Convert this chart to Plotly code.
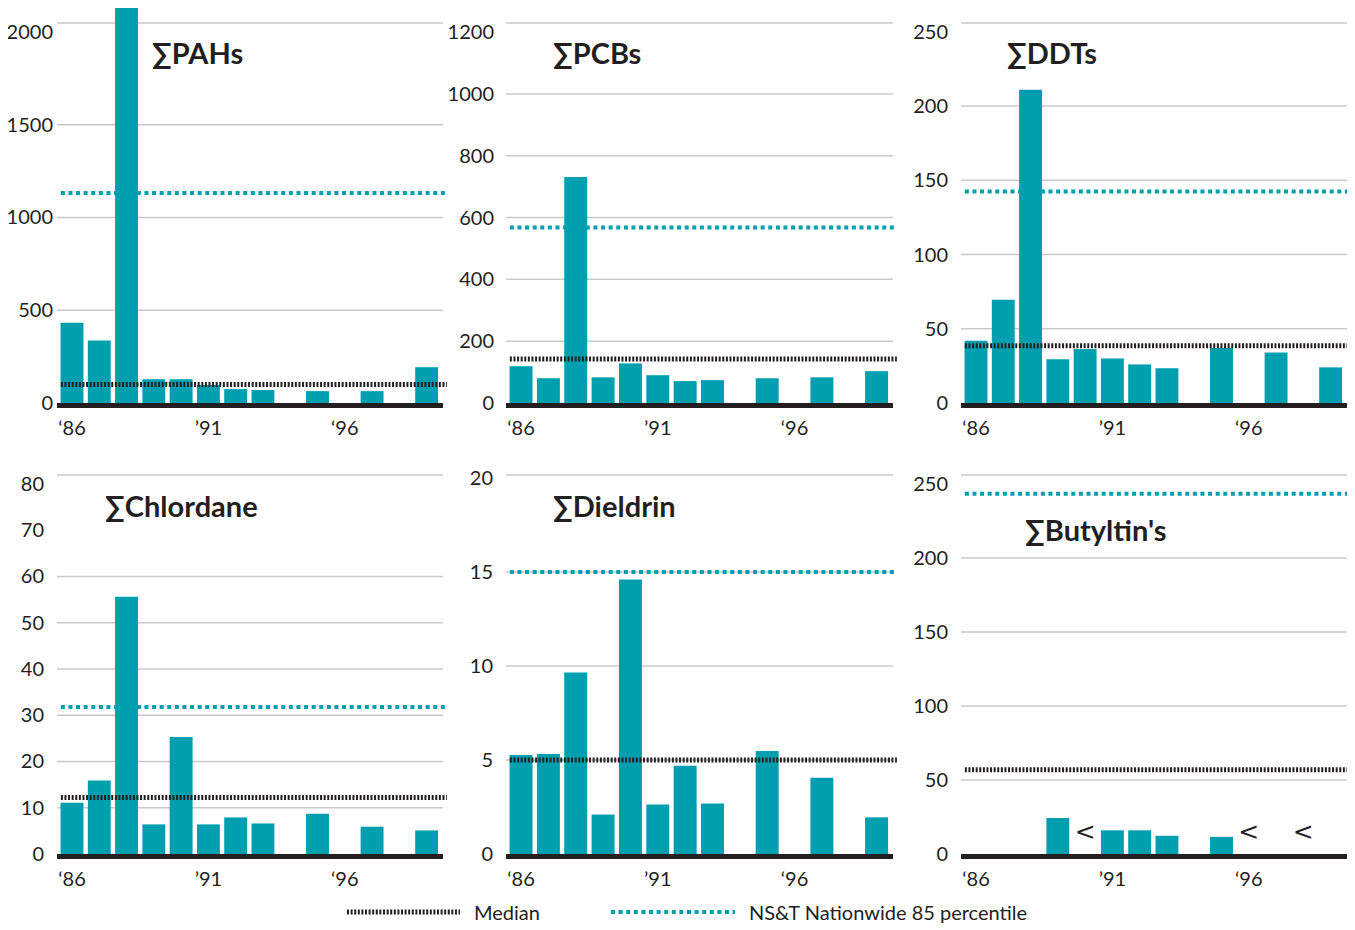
import plotly.graph_objects as go

# ---------------- data ----------------
years = list(range(1986, 2000))
pahs = [433, 337, 2140, 128, 128, 97, 75, 70, None, 64, None, 64, None, 193]
pcbs = [119, 80, 731, 83, 128, 90, 71, 74, None, 80, None, 83, None, 103]
ddts = [41.9, 69.5, 211, 29.4, 36.3, 30, 26, 23.4, None, 37, None, 34, None, 24]
chlordane = [11.1, 15.9, 55.6, 6.4, 25.3, 6.4, 7.9, 6.6, None, 8.7, None, 5.9, None, 5.1]
dieldrin = [5.27, 5.32, 9.65, 2.1, 14.6, 2.63, 4.69, 2.69, None, 5.48, None, 4.06, None, 1.95]
butyltins = [None, None, None, 24.3, None, 16, 16, 12.3, None, 11.6, None, None, None, None]
butyltin_below_years = [1990, 1996, 1998]   # "<" (below detection) markers

titles = ["∑PAHs", "∑PCBs", "∑DDTs", "∑Chlordane", "∑Dieldrin", "∑Butyltin's"]
medians = [100, 142, 38.5, 12.2, 5.0, 56.9]
p85 = [1132, 568, 142.5, 31.8, 15.0, 243.5]
yticks = [
    [0, 500, 1000, 1500, 2000],
    [0, 200, 400, 600, 800, 1000, 1200],
    [0, 50, 100, 150, 200, 250],
    [0, 10, 20, 30, 40, 50, 60, 70, 80],
    [0, 5, 10, 15, 20],
    [0, 50, 100, 150, 200, 250],
]
grid_hidden = [[], [], [], [70], [], []]
yrange_top = [2129, 1278, 266, 83.0, 20.43, 259.5]
xtick_vals = [1986, 1991, 1996]
xtick_text = ["‘86", "’91", "‘96"]
series = [pahs, pcbs, ddts, chlordane, dieldrin, butyltins]

# ---------------- style / layout ----------------
W, H = 1355, 930
OFF = 8   # page body margin of the html wrapper
TEAL = "#009fb0"
INK = "#231f20"
GRID = "#c9c9c9"
FONT = "Lato"


def px_x(x):
    return min(max((x - OFF) / W, 0), 1)


def px_y(y):
    return min(max(1 - (y - OFF) / H, 0), 1)


col_px = [(57, 443), (506, 893), (961, 1347)]
row_px = [(8, 403), (470, 854)]           # (top, bottom) in pixels
top_grid_px = [23, 475]                   # top frame rule of each row
title_px = [(150, 52), (551, 52), (1005, 52), (103, 505), (551, 505), (1023, 529)]
ylabel_gap = [3, 11, 12, 12, 12, 12]

fig = go.Figure()
layout = dict(
    width=W, height=H, margin=dict(l=0, r=0, t=0, b=0, autoexpand=False),
    paper_bgcolor="white", plot_bgcolor="white", showlegend=False,
    font=dict(family=FONT, color=INK, size=20),
)
shapes = []
annotations = []

for i in range(6):
    r, c = divmod(i, 3)
    n = "" if i == 0 else str(i + 1)
    xa, ya = "x" + n, "y" + n
    x0p, x1p = col_px[c]
    t, b = row_px[r]

    layout["xaxis" + n] = dict(
        domain=[px_x(x0p), px_x(x1p)], anchor=ya, range=[1985.45, 1999.6],
        tickvals=xtick_vals, ticktext=xtick_text, ticks="", showgrid=False,
        zeroline=False, showline=True, linewidth=5, linecolor=INK, automargin=False,
        tickfont=dict(size=20, color=INK, family=FONT), fixedrange=True,
        ticklabelstandoff=3,
    )
    layout["yaxis" + n] = dict(
        domain=[px_y(b), px_y(t)], anchor=xa, range=[0, yrange_top[i]],
        tickvals=yticks[i], ticks="", showgrid=False, zeroline=False, automargin=False,
        showline=False, tickfont=dict(size=20, color=INK, family=FONT),
        fixedrange=True, ticklabelstandoff=ylabel_gap[i],
    )

    # gridlines (top one follows the frame rule)
    for v in yticks[i][1:-1]:
        if v in grid_hidden[i]:
            continue
        shapes.append(dict(type="line", xref=xa + " domain", yref=ya, x0=0, x1=1,
                           y0=v, y1=v, line=dict(color=GRID, width=1.5), layer="below"))
    tg = px_y(top_grid_px[r])
    shapes.append(dict(type="line", xref=xa + " domain", yref="paper", x0=0, x1=1,
                       y0=tg, y1=tg, line=dict(color=GRID, width=1.5), layer="below"))

    # 85th percentile (behind bars)
    shapes.append(dict(type="line", xref=xa + " domain", yref=ya, x0=0.01, x1=1.005,
                       y0=p85[i], y1=p85[i], layer="below",
                       line=dict(color=TEAL, width=4, dash="4px,3.6px")))

    fig.add_trace(go.Bar(x=years, y=series[i], xaxis=xa, yaxis=ya,
                         marker=dict(color=TEAL, line=dict(width=0)), width=0.84,
                         hoverinfo="x+y"))

    # median (over bars)
    shapes.append(dict(type="line", xref=xa + " domain", yref=ya, x0=0.01, x1=1.01,
                       y0=medians[i], y1=medians[i], layer="above",
                       line=dict(color=INK, width=5, dash="2px,1.6px")))

    tx, ty = title_px[i]
    annotations.append(dict(text="<b>" + titles[i] + "</b>", xref="paper", yref="paper",
                            x=px_x(tx), y=px_y(ty), xanchor="left", yanchor="middle",
                            showarrow=False, font=dict(size=29, color=INK, family=FONT)))

# "<" markers on butyltin panel
fig.add_trace(go.Scatter(x=butyltin_below_years, y=[13.5] * len(butyltin_below_years),
                         xaxis="x6", yaxis="y6", mode="text", text=["<"] * len(butyltin_below_years),
                         textfont=dict(size=25, color=INK, family="DejaVu Sans"), hoverinfo="skip"))

# legend
ly = px_y(912)
shapes.append(dict(type="line", xref="paper", yref="paper", x0=px_x(347), x1=px_x(460), y0=ly, y1=ly,
                   line=dict(color=INK, width=5, dash="2px,1.6px")))
shapes.append(dict(type="line", xref="paper", yref="paper", x0=px_x(611), x1=px_x(735), y0=ly, y1=ly,
                   line=dict(color=TEAL, width=4, dash="4px,3.6px")))
annotations.append(dict(text="Median", xref="paper", yref="paper", x=px_x(472), y=ly,
                        xanchor="left", yanchor="middle", showarrow=False,
                        font=dict(size=20, color=INK, family=FONT)))
annotations.append(dict(text="NS&T Nationwide 85 percentile", xref="paper", yref="paper",
                        x=px_x(747), y=ly, xanchor="left", yanchor="middle", showarrow=False,
                        font=dict(size=20, color=INK, family=FONT)))

layout["shapes"] = shapes
layout["annotations"] = annotations
fig.update_layout(**layout)
fig.write_html("out.html")
